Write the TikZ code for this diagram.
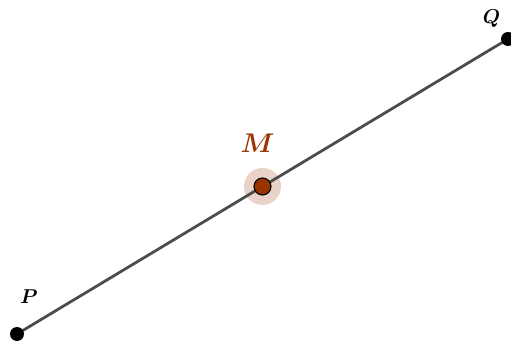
\documentclass[tikz,border=0pt]{standalone}
\usepackage{fix-cm}
\usetikzlibrary{calc}
\definecolor{mbrown}{HTML}{993300}
\definecolor{lgray}{HTML}{4D4D4D}
\begin{document}
\begin{tikzpicture}[x=1pt,y=-1pt,
  dotnode/.style={circle,fill=black,inner sep=0pt,minimum size=14pt},
  lbl/.style={inner sep=0pt,anchor=base}]
\useasboundingbox (0,0) rectangle (511,344);
\coordinate (P) at (17,334);
\coordinate (Q) at (508,39);
\coordinate (M) at ($(P)!0.5!(Q)$);
\fill[mbrown,opacity=0.22] (M) circle (18.5);
\draw[lgray,line width=2.8pt] (P) -- (Q);
\node[dotnode] (p) at (P) {};
\node[dotnode] (q) at (Q) {};
\node[circle,fill=mbrown,draw=black,line width=1.1pt,inner sep=0pt,minimum size=17pt] (m) at (M) {};
\node[lbl,font=\fontsize{20}{24}\selectfont\boldmath] (lp) at (29,303.5) {$P$};
\node[lbl,font=\fontsize{20}{24}\selectfont\boldmath] (lq) at (491.5,23.5) {$Q$};
\node[lbl,text=mbrown,font=\fontsize{27}{30}\selectfont\boldmath] (lm) at (257.5,153) {$M$};
\end{tikzpicture}
\end{document}
